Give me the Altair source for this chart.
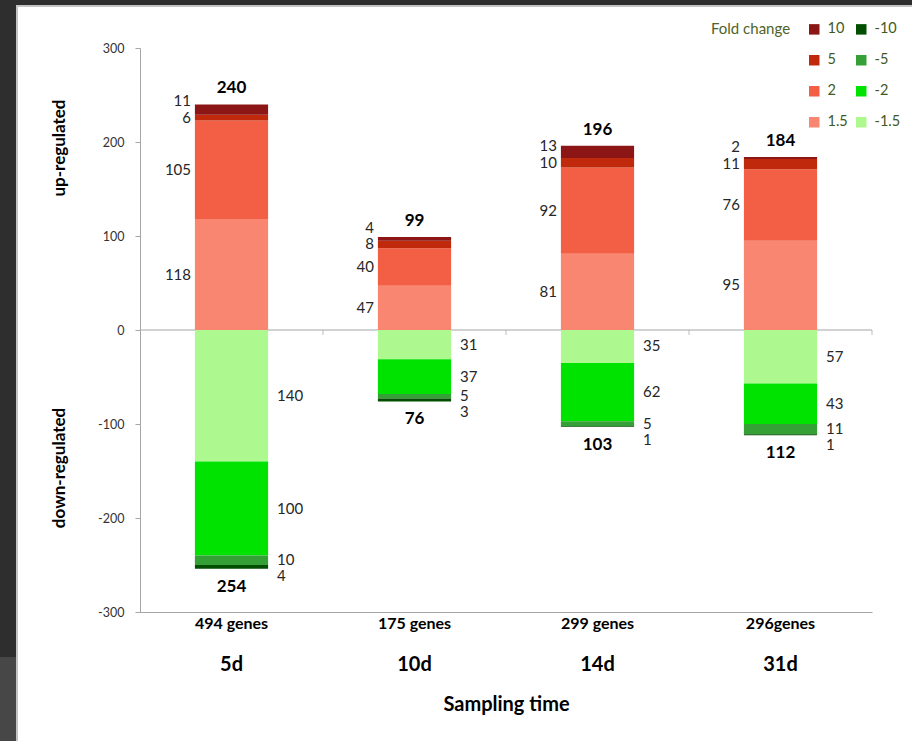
import altair as alt
import pandas as pd

FONT = "Lato"

# Sampling times and gene totals per time point
times = ["5d", "10d", "14d", "31d"]
gene_labels = ["494 genes", "175 genes", "299 genes", "296genes"]

# Up-regulated gene counts per fold-change class
up_fc_1_5 = [118, 47, 81, 95]
up_fc_2 = [105, 40, 92, 76]
up_fc_5 = [6, 8, 10, 11]
up_fc_10 = [11, 4, 13, 2]

# Down-regulated gene counts per fold-change class
down_fc_1_5 = [140, 31, 35, 57]
down_fc_2 = [100, 37, 62, 43]
down_fc_5 = [10, 5, 5, 11]
down_fc_10 = [4, 3, 1, 1]

# legend fills column by column: red classes first, then green
legend_order = ["10", "5", "2", "1.5", "-10", "-5", "-2", "-1.5"]
legend_colors = ["#8c1616", "#c0290c", "#f25f45", "#f98670",
                 "#024f02", "#35a035", "#00e300", "#adf98f"]

W, H = 732, 564

up_series = [("1.5", up_fc_1_5), ("2", up_fc_2), ("5", up_fc_5), ("10", up_fc_10)]
down_series = [("-1.5", down_fc_1_5), ("-2", down_fc_2), ("-5", down_fc_5), ("-10", down_fc_10)]

rows, up_lab, down_lab, totals = [], [], [], []
for i, t in enumerate(times):
    # stacked segments; rank keeps the 1.5 class nearest zero
    base, prev = 0, None
    for rank, (fc, vals) in enumerate(up_series):
        v = vals[i]
        rows.append({"time": t, "fc": fc, "rank": rank, "value": v})
        mid = base + v / 2
        if prev is not None and mid < prev + 18:
            mid = prev + 18
        up_lab.append({"time": t, "pos": mid, "count": str(v)})
        prev = mid
        base += v
    totals.append({"time": t, "pos": base, "total": str(base), "side": "up"})
    base, prev = 0, None
    for rank, (fc, vals) in enumerate(down_series):
        v = vals[i]
        rows.append({"time": t, "fc": fc, "rank": rank, "value": -v})
        mid = base - v / 2
        if prev is not None and mid > prev - 17:
            mid = prev - 17
        down_lab.append({"time": t, "pos": mid, "count": str(v)})
        prev = mid
        base -= v
    totals.append({"time": t, "pos": base, "total": str(-base), "side": "down"})

df = pd.DataFrame(rows)
df_up_lab = pd.DataFrame(up_lab)
df_down_lab = pd.DataFrame(down_lab)
df_tot = pd.DataFrame(totals)
df_times = pd.DataFrame({"time": times})

label_expr = " : ".join(
    f"datum.value == '{t}' ? '{g}'" for t, g in zip(times, gene_labels)
) + " : ''"

x_enc = alt.X(
    "time:N", sort=times,
    scale=alt.Scale(paddingInner=0.6, paddingOuter=0.3),
    axis=alt.Axis(
        title="Sampling time", titleFont=FONT, titleFontSize=20, titleFontWeight="bold",
        titleColor="#000000", titlePadding=63,
        labelExpr=label_expr, labelFont=FONT, labelFontSize=16, labelFontWeight="bold",
        labelColor="#000000", labelPadding=11, labelAngle=0, labelAlign="center",
        bandPosition=0.5, ticks=False, domainColor="#a6a6a6", domainWidth=1.2,
    ),
)
y_scale = alt.Scale(domain=[-300, 300], nice=False)

bars = alt.Chart(df).mark_bar().encode(
    x=x_enc,
    y=alt.Y("value:Q", stack="zero", scale=y_scale,
            axis=alt.Axis(values=[-300, -200, -100, 0, 100, 200, 300], title=None,
                          labelExpr="'' + datum.value",
                          grid=False, domainColor="#a6a6a6", tickColor="#a6a6a6",
                          tickSize=5, labelFont=FONT, labelFontSize=12.5,
                          labelColor="#333333", labelPadding=11)),
    order=alt.Order("rank:Q", sort="ascending"),
    color=alt.Color(
        "fc:N",
        scale=alt.Scale(domain=legend_order, range=legend_colors),
        legend=alt.Legend(
            title="Fold change", titleOrient="left", titleAnchor="start",
            titleBaseline="top", titleFont=FONT, titleFontSize=15,
            titleFontWeight="normal", titleColor="#4f6228", titlePadding=16,
            columns=2, orient="none", legendX=571, legendY=-26,
            symbolType="square", symbolSize=110, symbolStrokeWidth=0,
            labelFont=FONT, labelFontSize=14.5, labelColor="#3f5a1f", labelOffset=6,
            rowPadding=16, columnPadding=6,
        ),
    ),
)

up_text = alt.Chart(df_up_lab).mark_text(
    align="right", baseline="middle", xOffset=-40.5, font=FONT, fontSize=15, color="#262626"
).encode(x=alt.X("time:N", sort=times), y=alt.Y("pos:Q", scale=y_scale), text="count:N")

down_text = alt.Chart(df_down_lab).mark_text(
    align="left", baseline="middle", xOffset=45.5, font=FONT, fontSize=15, color="#262626"
).encode(x=alt.X("time:N", sort=times), y=alt.Y("pos:Q", scale=y_scale), text="count:N")

tot_up = alt.Chart(df_tot[df_tot.side == "up"]).mark_text(
    align="center", baseline="middle", yOffset=-16, font=FONT, fontSize=17,
    fontWeight="bold", color="#000000"
).encode(x=alt.X("time:N", sort=times), y=alt.Y("pos:Q", scale=y_scale), text="total:N")

tot_down = alt.Chart(df_tot[df_tot.side == "down"]).mark_text(
    align="center", baseline="middle", yOffset=18, font=FONT, fontSize=17,
    fontWeight="bold", color="#000000"
).encode(x=alt.X("time:N", sort=times), y=alt.Y("pos:Q", scale=y_scale), text="total:N")

# day names under the gene totals
day_text = alt.Chart(df_times).mark_text(
    align="center", baseline="middle", yOffset=53, font=FONT, fontSize=20,
    fontWeight="bold", color="#000000"
).encode(x=alt.X("time:N", sort=times), y=alt.datum(-300), text="time:N")

# zero line with separators between sampling times
zero_line = alt.Chart(pd.DataFrame({"v": [0]})).mark_rule(color="#a6a6a6", strokeWidth=1.2).encode(
    y=alt.Y("v:Q", scale=y_scale), x=alt.value(0), x2=alt.value(W)
)
zero_ticks = alt.Chart(df_times).mark_tick(
    orient="vertical", size=5, thickness=1, yOffset=2.5, xOffset=91.5, color="#a6a6a6"
).encode(x=alt.X("time:N", sort=times), y=alt.datum(0))

one = pd.DataFrame({"a": [0]})
up_title = alt.Chart(one).mark_text(
    angle=270, font=FONT, fontSize=17, fontWeight="bold", color="#000000",
    align="center", baseline="middle"
).encode(x=alt.value(-80), y=alt.value(100), text=alt.value("up-regulated"))
down_title = alt.Chart(one).mark_text(
    angle=270, font=FONT, fontSize=17, fontWeight="bold", color="#000000",
    align="center", baseline="middle"
).encode(x=alt.value(-80), y=alt.value(420), text=alt.value("down-regulated"))

# slide frame around the chart
def strip(x0, x1, y0, y1, color):
    return alt.Chart(one).mark_rect(color=color).encode(
        x=alt.value(x0), x2=alt.value(x1), y=alt.value(y0), y2=alt.value(y1)
    )

frame = [
    strip(-140, -124, -48, 693, "#2e2e2e"),
    strip(-140, -124, 609, 693, "#474747"),
    strip(-140, 772, -48, -43, "#2e2e2e"),
    strip(-124, -122, -43, 693, "#c4c4c4"),
    strip(-124, 772, -43, -41, "#c4c4c4"),
]

chart = alt.layer(
    *frame, zero_line, zero_ticks, bars, up_text, down_text, tot_up, tot_down,
    day_text, up_title, down_title,
).properties(
    width=W, height=H,
    padding={"left": 140, "top": 48, "right": 40, "bottom": 129},
    autosize=alt.AutoSizeParams(type="none"),
    background="#ffffff",
).configure_view(strokeWidth=0)

chart.save("out.html", embed_options={"renderer": "svg", "actions": False})
